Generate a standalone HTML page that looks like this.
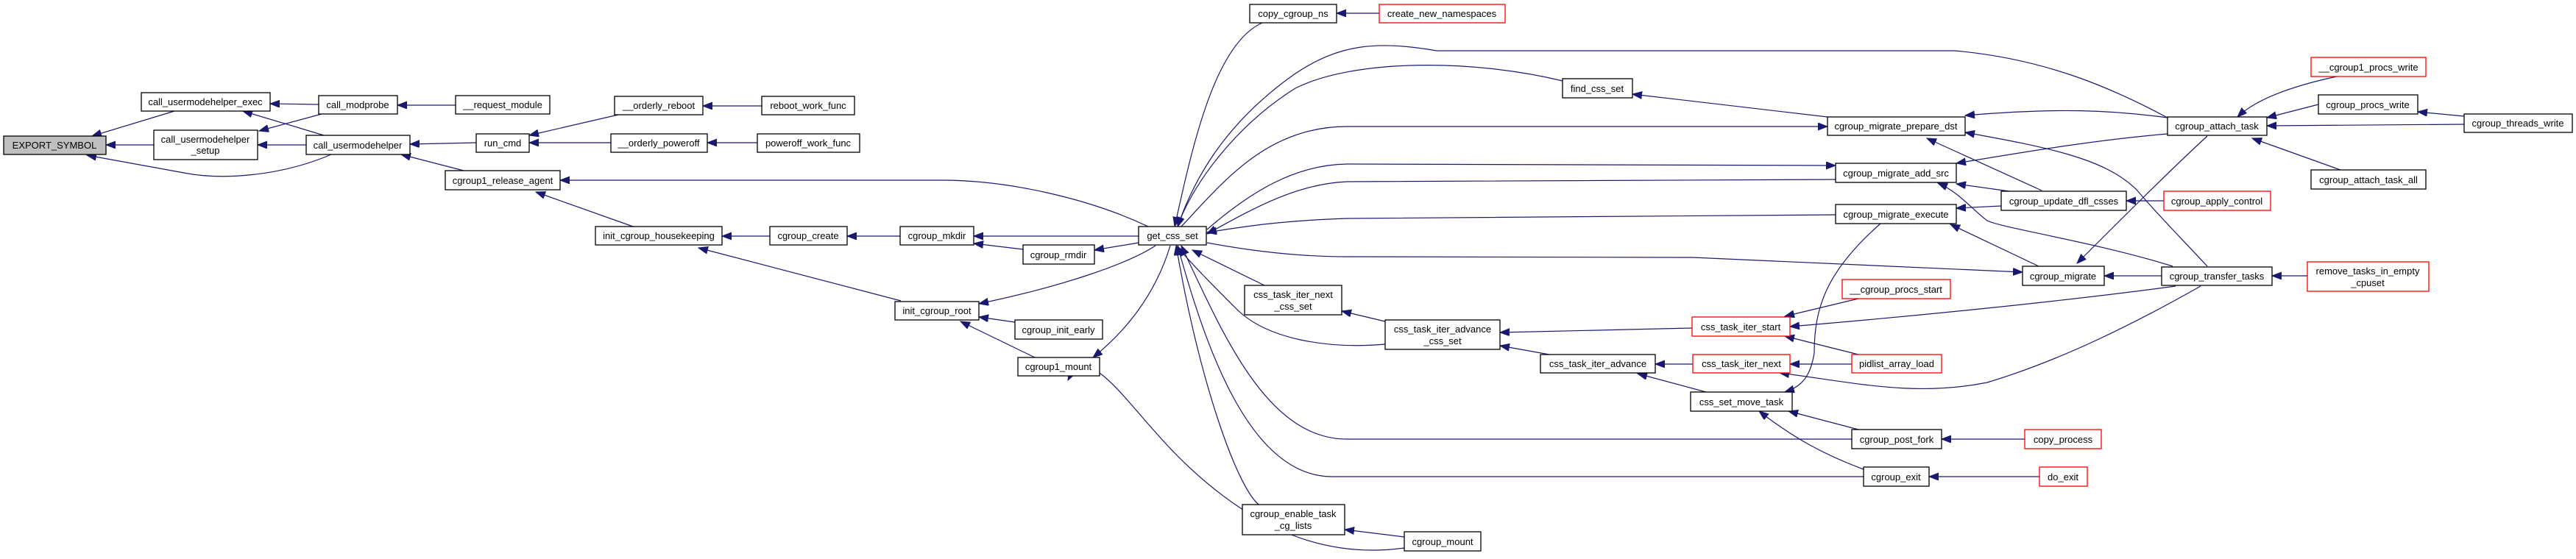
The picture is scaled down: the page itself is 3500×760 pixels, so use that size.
<!DOCTYPE html>
<html><head><meta charset="utf-8"><style>
html,body{margin:0;padding:0;background:#fff;}
svg{display:block;}
text{font-family:"Liberation Sans",sans-serif;font-size:13px;fill:#000;text-anchor:middle;}
.n{fill:#fff;stroke:#000;stroke-width:1.3;}
.r{fill:#fff;stroke:#ff0000;stroke-width:1.3;}
.g{fill:#bfbfbf;stroke:#000;stroke-width:1.3;}
path,line{fill:none;stroke:#191970;stroke-width:1.2;}
</style></head><body>
<svg width="3500" height="760" viewBox="0 0 3500 760" xmlns="http://www.w3.org/2000/svg">
<defs><marker id="a" markerUnits="userSpaceOnUse" markerWidth="14" markerHeight="12" refX="13" refY="5" orient="auto"><path d="M0,0 L13,5 L0,10 Z" style="fill:#191970;stroke:#191970;stroke-width:1"/></marker></defs>
<g marker-end="url(#a)">
<path d="M237,151 L125,185"/>
<path d="M209,197 L144,197"/>
<path d="M450,210 C380,240 300,245 250,235 C180,222 140,215 118,211"/>
<path d="M433,142 L367,141"/>
<path d="M437,155 L352,178"/>
<path d="M440,184 L330,151"/>
<path d="M416,197 L350,197"/>
<path d="M619,143 L540,143"/>
<path d="M647,194 L557,196"/>
<path d="M630,232 L545,210"/>
<path d="M840,156 L719,184"/>
<path d="M830,194 L719,194"/>
<path d="M1035,144 L955,144"/>
<path d="M1029,194 L961,194"/>
<path d="M1560,308 C1480,270 1370,245 1280,245 L761,245"/>
<path d="M860,308 L728,261"/>
<path d="M1046,321 L981,321"/>
<path d="M1223,321 L1151,321"/>
<path d="M1547,321 L1323,321"/>
<path d="M1390,339 L1323,331"/>
<path d="M1547,330 L1487,340"/>
<path d="M1224,409 L949,337"/>
<path d="M1570,334 C1530,360 1440,390 1330,413"/>
<path d="M1379,438 L1330,431"/>
<path d="M1406,486 L1305,437"/>
<path d="M1590,334 C1570,400 1530,450 1485,486"/>
<path d="M1908,745 C1800,760 1700,720 1600,620 C1530,550 1480,460 1451,517"/>
<path d="M1715,31 C1650,60 1620,200 1596,308"/>
<path d="M1874,18 L1816,18"/>
<path d="M2945,160 C2870,120 2780,80 2656,69 L1952,69 C1870,55 1820,60 1760,100 C1660,170 1620,250 1600,308"/>
<path d="M2123,110 C2000,80 1840,80 1760,120 C1680,170 1620,250 1600,308"/>
<path d="M2483,159 L2218,128"/>
<path d="M1605,308 C1660,250 1720,172 1830,172 L2483,172"/>
<path d="M2945,160 C2870,150 2800,146 2670,157"/>
<path d="M2999,362 C2960,320 2930,290 2903,258 C2860,215 2780,200 2670,180"/>
<path d="M2774,259 L2618,188"/>
<path d="M1640,312 C1700,260 1760,224 1830,223 L2494,225"/>
<path d="M2494,244 L1830,247 C1760,250 1700,285 1640,318"/>
<path d="M2945,182 C2850,190 2760,205 2658,222"/>
<path d="M2730,260 L2658,250"/>
<path d="M2952,362 C2850,330 2720,310 2700,300 C2680,285 2660,260 2633,249"/>
<path d="M2999,185 C2950,230 2880,300 2822,358"/>
<path d="M2940,273 L2889,273"/>
<path d="M2494,292 L1830,297 C1740,300 1690,308 1640,316"/>
<path d="M2719,280 L2658,283"/>
<path d="M2770,362 L2650,305"/>
<path d="M1640,330 C1720,345 1780,349 1830,349 L2300,350 L2748,370"/>
<path d="M2937,375 L2859,375"/>
<path d="M3135,375 L3087,375"/>
<path d="M3175,104 C3100,120 3060,140 3040,159"/>
<path d="M3150,142 L3080,160"/>
<path d="M3348,169 L3080,171"/>
<path d="M3348,158 L3285,152"/>
<path d="M3180,231 L3060,188"/>
<path d="M1718,388 L1620,340"/>
<path d="M1882,437 L1823,423"/>
<path d="M1882,468 C1800,475 1720,460 1680,420 C1650,390 1620,360 1600,336"/>
<path d="M2299,446 L2038,452"/>
<path d="M2105,482 L2038,470"/>
<path d="M2300,495 L2249,495"/>
<path d="M2318,533 L2225,508"/>
<path d="M2525,406 L2425,430"/>
<path d="M2956,389 C2800,410 2600,430 2432,444"/>
<path d="M2525,482 L2425,457"/>
<path d="M2516,495 L2432,495"/>
<path d="M2990,389 C2900,440 2800,490 2700,520 C2600,540 2520,520 2418,507"/>
<path d="M2555,304 C2480,370 2465,420 2465,480 C2460,510 2450,525 2425,533"/>
<path d="M2525,584 L2430,559"/>
<path d="M2532,638 C2470,615 2430,590 2390,559"/>
<path d="M2516,597 L1830,597 C1720,597 1660,450 1605,334"/>
<path d="M2532,648 L1810,648 C1700,648 1640,480 1600,334"/>
<path d="M2751,597 L2638,597"/>
<path d="M2771,648 L2621,648"/>
<path d="M1710,686 C1680,660 1630,520 1598,334"/>
<path d="M1908,730 L1827,720"/>
</g>
<rect class="g" x="5" y="185" width="139" height="25"/><text x="74" y="202">EXPORT_SYMBOL</text>
<rect class="n" x="192" y="126" width="175" height="25"/><text x="279" y="143">call_usermodehelper_exec</text>
<rect class="n" x="209" y="177" width="141" height="40"/><text x="279" y="194">call_usermodehelper</text><text x="279" y="209">_setup</text>
<rect class="n" x="433" y="130" width="107" height="25"/><text x="486" y="147">call_modprobe</text>
<rect class="n" x="619" y="130" width="128" height="25"/><text x="683" y="147">__request_module</text>
<rect class="n" x="416" y="184" width="141" height="26"/><text x="486" y="202">call_usermodehelper</text>
<rect class="n" x="647" y="182" width="72" height="25"/><text x="683" y="199">run_cmd</text>
<rect class="n" x="605" y="232" width="156" height="26"/><text x="683" y="250">cgroup1_release_agent</text>
<rect class="n" x="809" y="308" width="172" height="25"/><text x="895" y="325">init_cgroup_housekeeping</text>
<rect class="n" x="835" y="131" width="120" height="25"/><text x="895" y="148">__orderly_reboot</text>
<rect class="n" x="830" y="182" width="131" height="25"/><text x="895" y="199">__orderly_poweroff</text>
<rect class="n" x="1035" y="131" width="126" height="25"/><text x="1098" y="148">reboot_work_func</text>
<rect class="n" x="1029" y="182" width="139" height="25"/><text x="1098" y="199">poweroff_work_func</text>
<rect class="n" x="1046" y="308" width="105" height="25"/><text x="1098" y="325">cgroup_create</text>
<rect class="n" x="1223" y="308" width="100" height="25"/><text x="1273" y="325">cgroup_mkdir</text>
<rect class="n" x="1390" y="333" width="97" height="26"/><text x="1438" y="351">cgroup_rmdir</text>
<rect class="n" x="1547" y="308" width="92" height="25"/><text x="1593" y="325">get_css_set</text>
<rect class="n" x="1698" y="6" width="118" height="25"/><text x="1757" y="23">copy_cgroup_ns</text>
<rect class="n" x="1216" y="410" width="114" height="25"/><text x="1273" y="427">init_cgroup_root</text>
<rect class="n" x="1379" y="435" width="119" height="26"/><text x="1438" y="453">cgroup_init_early</text>
<rect class="n" x="1383" y="486" width="111" height="25"/><text x="1438" y="503">cgroup1_mount</text>
<rect class="r" x="1874" y="6" width="171" height="25"/><text x="1959" y="23">create_new_namespaces</text>
<rect class="n" x="2123" y="107" width="95" height="26"/><text x="2170" y="125">find_css_set</text>
<rect class="n" x="2483" y="159" width="187" height="25"/><text x="2576" y="176">cgroup_migrate_prepare_dst</text>
<rect class="n" x="2494" y="222" width="164" height="26"/><text x="2576" y="240">cgroup_migrate_add_src</text>
<rect class="n" x="2719" y="260" width="170" height="26"/><text x="2804" y="278">cgroup_update_dfl_csses</text>
<rect class="n" x="2494" y="278" width="164" height="26"/><text x="2576" y="296">cgroup_migrate_execute</text>
<rect class="n" x="2748" y="362" width="111" height="26"/><text x="2803" y="380">cgroup_migrate</text>
<rect class="r" x="2503" y="380" width="147" height="26"/><text x="2576" y="398">__cgroup_procs_start</text>
<rect class="n" x="1691" y="388" width="132" height="40"/><text x="1757" y="405">css_task_iter_next</text><text x="1757" y="421">_css_set</text>
<rect class="n" x="1882" y="435" width="156" height="40"/><text x="1960" y="452">css_task_iter_advance</text><text x="1960" y="468">_css_set</text>
<rect class="r" x="2299" y="431" width="133" height="26"/><text x="2365" y="449">css_task_iter_start</text>
<rect class="n" x="2093" y="482" width="156" height="25"/><text x="2171" y="499">css_task_iter_advance</text>
<rect class="r" x="2300" y="482" width="132" height="25"/><text x="2366" y="499">css_task_iter_next</text>
<rect class="r" x="2516" y="482" width="122" height="25"/><text x="2577" y="499">pidlist_array_load</text>
<rect class="n" x="2297" y="533" width="138" height="26"/><text x="2366" y="551">css_set_move_task</text>
<rect class="n" x="2516" y="584" width="122" height="26"/><text x="2577" y="602">cgroup_post_fork</text>
<rect class="n" x="2532" y="635" width="89" height="26"/><text x="2576" y="653">cgroup_exit</text>
<rect class="r" x="2751" y="584" width="104" height="26"/><text x="2803" y="602">copy_process</text>
<rect class="r" x="2771" y="635" width="65" height="26"/><text x="2803" y="653">do_exit</text>
<rect class="n" x="1688" y="686" width="139" height="41"/><text x="1757" y="703">cgroup_enable_task</text><text x="1757" y="719">_cg_lists</text>
<rect class="n" x="1908" y="723" width="104" height="26"/><text x="1960" y="741">cgroup_mount</text>
<rect class="n" x="2937" y="363" width="150" height="25"/><text x="3012" y="380">cgroup_transfer_tasks</text>
<rect class="n" x="2945" y="159" width="135" height="25"/><text x="3012" y="176">cgroup_attach_task</text>
<rect class="r" x="3140" y="78" width="156" height="26"/><text x="3218" y="96">__cgroup1_procs_write</text>
<rect class="n" x="3150" y="129" width="135" height="26"/><text x="3217" y="147">cgroup_procs_write</text>
<rect class="n" x="3348" y="155" width="147" height="25"/><text x="3421" y="172">cgroup_threads_write</text>
<rect class="n" x="3140" y="231" width="156" height="26"/><text x="3218" y="249">cgroup_attach_task_all</text>
<rect class="r" x="2940" y="260" width="145" height="26"/><text x="3012" y="278">cgroup_apply_control</text>
<rect class="r" x="3135" y="356" width="165" height="40"/><text x="3217" y="373">remove_tasks_in_empty</text><text x="3217" y="389">_cpuset</text>
</svg>
</body></html>
